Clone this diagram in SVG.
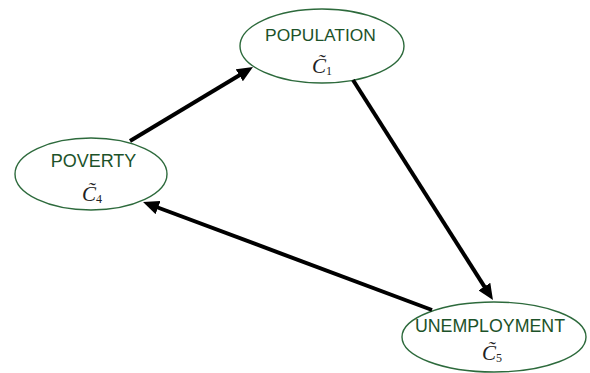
<svg xmlns="http://www.w3.org/2000/svg" width="590" height="373" viewBox="0 0 590 373">
<style>
.node ellipse{fill:#fff;stroke:#2d6a3c;stroke-width:1.4}
.lbl{font-family:"Liberation Sans",Arial,sans-serif;fill:#1c5229;text-anchor:middle}
.sym{font-family:"Liberation Serif","DejaVu Serif",serif;font-style:italic;fill:#222;font-size:21px}
.sub{font-style:normal;font-size:12px}
.conn line{stroke:#000;stroke-width:4}
</style>
<defs>
<marker id="ah" viewBox="0 0 16 14" markerWidth="16" markerHeight="14" markerUnits="userSpaceOnUse" refX="6" refY="7" orient="auto">
<path d="M0,0 L16,7 L0,14 z" fill="#000"/>
</marker>
</defs>
<rect width="590" height="373" fill="#fff"/>
<g id="node-population" class="node">
<ellipse cx="322" cy="46" rx="82" ry="37"/>
<text class="lbl" x="320.5" y="41" font-size="17.4">POPULATION</text>
<text class="sym" x="312" y="73">C&#x303;<tspan class="sub" dy="2">1</tspan></text>
</g>
<g id="node-poverty" class="node">
<ellipse cx="91" cy="174" rx="76" ry="36"/>
<text class="lbl" x="93.5" y="167" font-size="18">POVERTY</text>
<text class="sym" x="82" y="201">C&#x303;<tspan class="sub" dy="2">4</tspan></text>
</g>
<g id="node-unemployment" class="node">
<ellipse cx="494" cy="337" rx="92" ry="35"/>
<text class="lbl" x="490" y="332" font-size="17.8">UNEMPLOYMENT</text>
<text class="sym" x="482" y="360">C&#x303;<tspan class="sub" dy="2">5</tspan></text>
</g>
<g id="connectors" class="conn">
<line x1="130" y1="141" x2="244.4" y2="72.2" marker-end="url(#ah)"/>
<line x1="353" y1="80" x2="487.6" y2="291.6" marker-end="url(#ah)"/>
<line x1="432" y1="310" x2="152.4" y2="205.5" marker-end="url(#ah)"/>
</g>
</svg>
